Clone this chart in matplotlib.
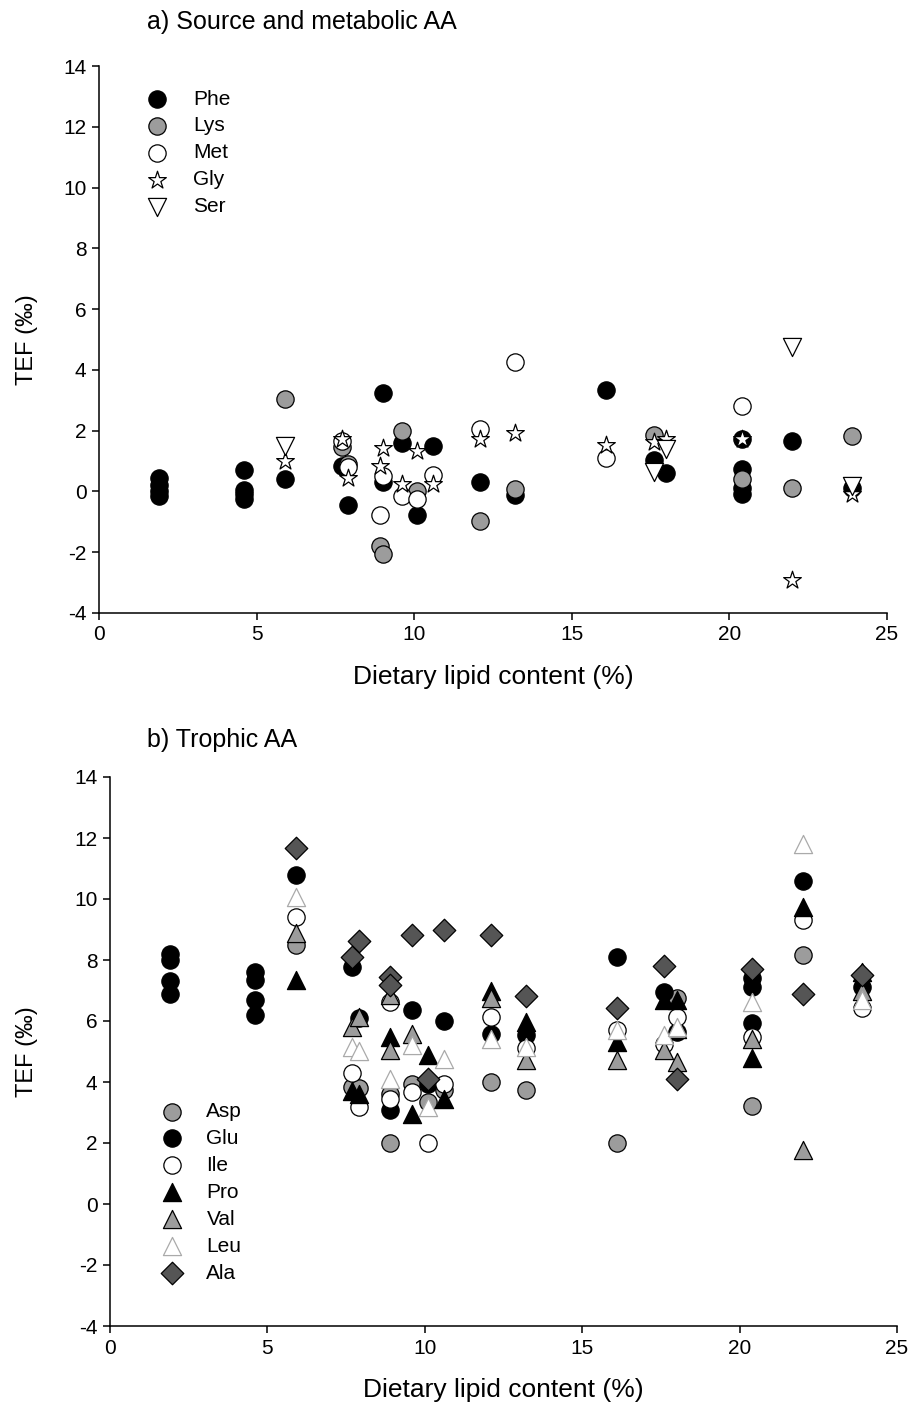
import matplotlib
matplotlib.use("Agg")
import matplotlib.pyplot as plt

# ----- Configuration -----
FIG_W, FIG_H, DPI = 9.09, 14.08, 100
FONT = ["Liberation Sans", "DejaVu Sans"]
MARKER_SIZE = 155
EDGE_W = 0.9

plt.rcParams["axes.unicode_minus"] = False

# ----- Panel a data: source and metabolic AA -----
PHE_X = [1.9, 1.9, 1.9, 1.9, 4.6, 4.6, 4.6, 4.6, 5.9, 7.7, 7.9, 9.0, 9.0, 9.6, 10.1, 10.6,
         12.1, 13.2, 16.1, 17.6, 18.0, 20.4, 20.4, 20.4, 20.4, 22.0, 23.9]
PHE_Y = [0.45, 0.2, 0.0, -0.15, 0.7, 0.05, -0.1, -0.25, 0.4, 0.85, -0.45, 3.23, 0.3, 1.6, -0.78, 1.5,
         0.32, -0.13, 3.34, 1.05, 0.62, 1.72, 0.75, 0.1, -0.1, 1.66, 0.1]

LYS_X = [5.9, 7.7, 7.9, 8.9, 9.0, 9.6, 10.1, 12.1, 13.2, 17.6, 20.4, 22.0, 23.9]
LYS_Y = [3.04, 1.45, 0.9, -1.8, -2.05, 1.99, 0.0, -0.98, 0.07, 1.85, 0.42, 0.1, 1.83]

MET_X = [7.7, 7.9, 9.0, 8.9, 9.6, 10.1, 10.6, 12.1, 13.2, 16.1, 20.4]
MET_Y = [1.65, 0.8, 0.5, -0.79, -0.15, -0.26, 0.55, 2.05, 4.25, 1.11, 2.82]

GLY_X = [5.9, 7.7, 7.9, 9.0, 8.9, 9.6, 10.1, 10.6, 12.1, 13.2, 16.1, 17.6, 18.0, 20.4, 22.0, 23.9]
GLY_Y = [1.0, 1.72, 0.45, 1.44, 0.84, 0.25, 1.33, 0.25, 1.74, 1.91, 1.52, 1.63, 1.74, 1.72, -2.9, -0.1]

SER_X = [5.9, 17.6, 18.0, 22.0, 23.9]
SER_Y = [1.5, 0.64, 1.39, 4.74, 0.18]

# ----- Panel b data: trophic AA -----
ASP_X = [5.9, 7.7, 7.9, 8.9, 8.9, 9.6, 10.1, 10.6, 12.1, 13.2, 16.1, 18.0, 20.4, 22.0]
ASP_Y = [8.49, 3.84, 3.8, 3.62, 2.01, 3.92, 3.34, 3.73, 4.0, 3.73, 2.0, 6.74, 3.21, 8.16]

GLU_X = [1.9, 1.9, 1.9, 1.9, 4.6, 4.6, 4.6, 4.6, 5.9, 7.7, 7.9, 8.9, 9.6, 10.1, 10.6,
         12.1, 13.2, 16.1, 17.6, 18.0, 20.4, 20.4, 20.4, 22.0, 23.9]
GLU_Y = [8.2, 8.0, 7.3, 6.9, 7.6, 7.35, 6.7, 6.2, 10.79, 7.78, 6.1, 3.07, 6.35, 3.95, 6.0,
         5.59, 5.53, 8.1, 6.96, 5.64, 7.4, 7.12, 5.92, 10.59, 7.12]

ILE_X = [5.9, 7.7, 7.9, 8.9, 8.9, 9.6, 10.1, 10.6, 12.1, 13.2, 16.1, 17.6, 18.0, 20.4, 22.0, 23.9]
ILE_Y = [9.4, 4.28, 3.18, 6.63, 3.45, 3.67, 2.01, 3.95, 6.13, 5.1, 5.72, 5.24, 6.13, 5.48, 9.31, 6.41]

PRO_X = [5.9, 7.7, 7.9, 8.9, 9.6, 10.1, 10.6, 12.1, 13.2, 16.1, 17.6, 18.0, 20.4, 22.0, 23.9]
PRO_Y = [7.34, 3.7, 3.6, 5.48, 2.96, 4.88, 3.45, 6.98, 5.97, 5.31, 6.68, 6.7, 4.8, 9.75, 7.6]

VAL_X = [5.9, 7.7, 7.9, 8.9, 8.9, 9.6, 12.1, 13.2, 16.1, 17.6, 18.0, 18.0, 20.4, 22.0, 23.9]
VAL_Y = [8.87, 5.81, 6.13, 6.85, 5.04, 5.59, 6.74, 4.71, 4.73, 5.04, 5.75, 4.66, 5.42, 1.78, 7.0]

LEU_X = [5.9, 7.7, 7.9, 8.9, 9.6, 10.1, 10.6, 12.1, 13.2, 16.1, 17.6, 18.0, 20.4, 22.0, 23.9]
LEU_Y = [10.06, 5.15, 5.02, 4.11, 5.2, 3.18, 4.77, 5.42, 5.15, 5.72, 5.53, 5.8, 6.63, 11.8, 6.68]

ALA_X = [5.9, 7.7, 7.9, 8.9, 8.9, 9.6, 10.1, 10.6, 12.1, 13.2, 16.1, 17.6, 18.0, 20.4, 22.0, 23.9]
ALA_Y = [11.68, 8.1, 8.62, 7.45, 7.18, 8.82, 4.11, 8.98, 8.82, 6.81, 6.41, 7.8, 4.11, 7.72, 6.9, 7.5]

X_TICKS = [0, 5, 10, 15, 20, 25]
Y_TICKS = [-4, -2, 0, 2, 4, 6, 8, 10, 12, 14]

# (label, x, y, marker, facecolor, edgecolor, size factor)
SERIES_A = [
    ("Phe", PHE_X, PHE_Y, "o", "black", "black", 1.0),
    ("Lys", LYS_X, LYS_Y, "o", "#9c9c9c", "black", 1.0),
    ("Met", MET_X, MET_Y, "o", "white", "black", 1.0),
    ("Gly", GLY_X, GLY_Y, "*", "white", "black", 1.15),
    ("Ser", SER_X, SER_Y, "v", "white", "black", 1.1),
]
SERIES_B = [
    ("Asp", ASP_X, ASP_Y, "o", "#9c9c9c", "black", 1.0),
    ("Glu", GLU_X, GLU_Y, "o", "black", "black", 1.0),
    ("Ile", ILE_X, ILE_Y, "o", "white", "black", 1.0),
    ("Pro", PRO_X, PRO_Y, "^", "black", "black", 1.1),
    ("Val", VAL_X, VAL_Y, "^", "#9c9c9c", "black", 1.1),
    ("Leu", LEU_X, LEU_Y, "^", "white", "#aaaaaa", 1.1),
    ("Ala", ALA_X, ALA_Y, "D", "#555555", "black", 0.85),
]


def style_axes(ax, ylabel_x):
    """Sigmaplot-like axes: left and bottom spines only, outward ticks."""
    ax.set_xlim(0, 25)
    ax.set_ylim(-4, 14)
    ax.set_xticks(X_TICKS)
    ax.set_yticks(Y_TICKS)
    for side in ("top", "right"):
        ax.spines[side].set_visible(False)
    for side in ("left", "bottom"):
        ax.spines[side].set_linewidth(1.1)
    ax.tick_params(direction="out", length=5, width=1.1, labelsize=15, pad=4)
    for lab in ax.get_xticklabels() + ax.get_yticklabels():
        lab.set_family(FONT)
    ax.set_xlabel("Dietary lipid content (%)", fontsize=19, family=FONT)
    ax.set_ylabel("TEF (\u2030)", fontsize=17, family=FONT)
    ax.xaxis.set_label_coords(0.5, -0.095)
    ax.yaxis.set_label_coords(ylabel_x, 0.5)


def draw_panel(ax, series, legend_anchor, textpad):
    for label, xs, ys, marker, fc, ec, k in series:
        ax.scatter(xs, ys, s=MARKER_SIZE * k, marker=marker, facecolor=fc,
                   edgecolor=ec, linewidth=EDGE_W, label=label, clip_on=False, zorder=3)
    ax.legend(loc="upper left", bbox_to_anchor=legend_anchor, frameon=False,
              prop={"family": FONT, "size": 15}, handlelength=1.0, handletextpad=textpad,
              labelspacing=0.38, borderpad=0, borderaxespad=0, scatterpoints=1)


if __name__ == "__main__":
    fig = plt.figure(figsize=(FIG_W, FIG_H), dpi=DPI)

    ax_a = fig.add_axes([99 / 909, 1 - 613 / 1408, 788 / 909, 547 / 1408])
    draw_panel(ax_a, SERIES_A, (0.060, 0.957), 1.25)
    style_axes(ax_a, -0.077)
    fig.text(147 / 909, 1 - 22 / 1408, "a) Source and metabolic AA", fontsize=18,
             family=FONT, va="center", ha="left")

    ax_b = fig.add_axes([110 / 909, 1 - 1326 / 1408, 787 / 909, 549 / 1408])
    draw_panel(ax_b, SERIES_B, (0.0656, 0.408), 1.15)
    style_axes(ax_b, -0.0915)
    fig.text(147 / 909, 1 - 740 / 1408, "b) Trophic AA", fontsize=18,
             family=FONT, va="center", ha="left")

    fig.savefig("out.png", dpi=DPI)
    plt.close(fig)
